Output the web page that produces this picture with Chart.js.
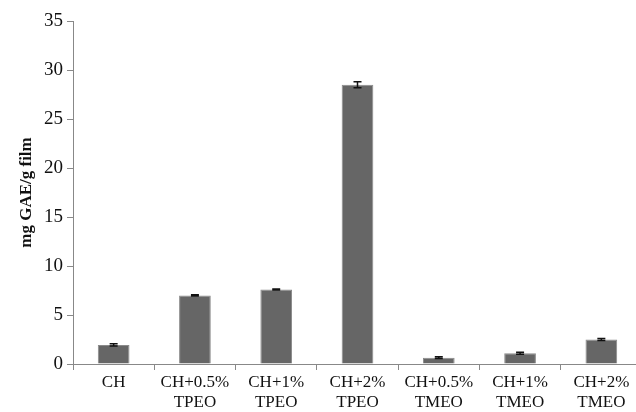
<!DOCTYPE html>
<html>
<head>
<meta charset="utf-8">
<script src="https://cdn.jsdelivr.net/npm/chart.js@4"></script>
<style>
  html, body { margin: 0; padding: 0; background: #fff; overflow: hidden; }
  #wrap { width: 650px; height: 412px; }
</style>
</head>
<body>
<div id="wrap"><canvas id="chart"></canvas></div>
<script>
// data
const categories = [
  ["CH"], ["CH+0.5%", "TPEO"], ["CH+1%", "TPEO"], ["CH+2%", "TPEO"],
  ["CH+0.5%", "TMEO"], ["CH+1%", "TMEO"], ["CH+2%", "TMEO"]
];
const values = [1.95, 7.0, 7.6, 28.5, 0.65, 1.1, 2.5];
const errors = [0.12, 0.06, 0.06, 0.3, 0.1, 0.1, 0.1];
const yTicks = [0, 5, 10, 15, 20, 25, 30, 35];

const serif = "'Liberation Serif', 'DejaVu Serif', serif";

// error bars drawn through the y scale
const errorBars = {
  id: "errorBars",
  afterDatasetsDraw(chart) {
    const ctx = chart.ctx;
    const y = chart.scales.y;
    const meta = chart.getDatasetMeta(0);
    ctx.save();
    ctx.strokeStyle = "#111";
    ctx.lineWidth = 1.5;
    meta.data.forEach((bar, i) => {
      const top = y.getPixelForValue(values[i] + errors[i]);
      const bot = y.getPixelForValue(values[i] - errors[i]);
      const x = bar.x;
      ctx.beginPath();
      ctx.moveTo(x, top); ctx.lineTo(x, bot);
      ctx.moveTo(x - 4, top); ctx.lineTo(x + 4, top);
      ctx.moveTo(x - 4, bot); ctx.lineTo(x + 4, bot);
      ctx.stroke();
    });
    ctx.restore();
  }
};

new Chart("chart", {
  type: "bar",
  data: {
    labels: categories,
    datasets: [{
      data: values,
      backgroundColor: "#666666",
      borderColor: "#8a8a8a",
      borderWidth: 1,
      barPercentage: 0.39,
      categoryPercentage: 1.0
    }]
  },
  options: {
    responsive: true,
    maintainAspectRatio: false,
    animation: false,
    layout: { padding: { top: 21, right: 8, left: 0, bottom: 0 } },
    plugins: { legend: { display: false }, tooltip: { enabled: false } },
    scales: {
      x: {
        afterFit: (axis) => { axis.height = 48; },
        grid: { drawOnChartArea: false, color: "#888", tickLength: 6, offset: true },
        border: { color: "#888", width: 1 },
        ticks: { color: "#111", font: { family: serif, size: 17, lineHeight: 1.15 }, maxRotation: 0, padding: 3 }
      },
      y: {
        min: 0,
        max: 35,
        afterBuildTicks: (axis) => { axis.ticks = yTicks.map(v => ({ value: v })); },
        afterFit: (axis) => { axis.width = 73; },
        grid: { drawOnChartArea: false, color: "#888", tickLength: 6 },
        border: { color: "#888", width: 1 },
        ticks: { color: "#111", font: { family: serif, size: 19 }, padding: 4 },
        title: {
          display: true,
          text: "mg GAE/g film",
          color: "#111",
          font: { family: serif, size: 17, weight: "bold" },
          padding: { top: 16, bottom: 0 }
        }
      }
    }
  },
  plugins: [errorBars]
});
</script>
</body>
</html>
